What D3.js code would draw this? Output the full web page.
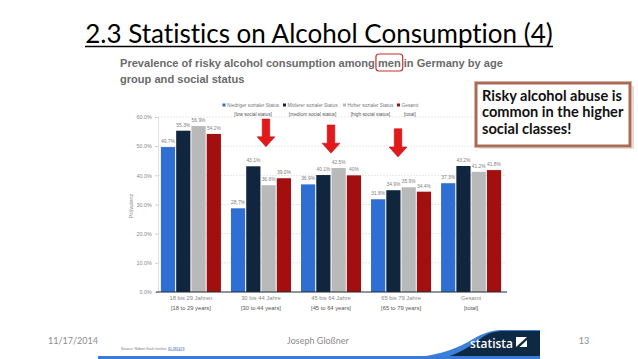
<!DOCTYPE html>
<html>
<head>
<meta charset="utf-8">
<script src="https://cdn.jsdelivr.net/npm/d3@7"></script>
<style>
  html, body { margin: 0; padding: 0; background: #fff; }
  svg { display: block; }
  text { font-variant-ligatures: none; }
</style>
</head>
<body>
<div id="slide"></div>
<script>
// chart data
const categories = ["18 bis 29 Jahren", "30 bis 44 Jahre", "45 bis 64 Jahre", "65 bis 79 Jahre", "Gesamt"];
const categoriesEn = ["[18 to 29 years]", "[30 to 44 years]", "[45 to 64 years]", "[65 to 79 years]", "[total]"];
const seriesNames = ["Niedriger sozialer Status", "Mittlerer sozialer Status", "Hoher sozialer Status", "Gesamt"];
const seriesNamesEn = ["[low social status]", "[medium social status]", "[high social status]", "[total]"];
const lowStatus = [49.7, 28.7, 36.9, 31.8, 37.3];
const mediumStatus = [55.3, 43.1, 40.1, 34.9, 43.2];
const highStatus = [56.9, 36.6, 42.5, 35.9, 41.2];
const totalStatus = [54.2, 39.0, 40.0, 34.4, 41.8];
const yTicks = [0, 10, 20, 30, 40, 50, 60];
// groups the red arrows point at
const arrowGroups = [1, 2, 3];

const colors = ["#2f6fd4", "#10263f", "#b9b9b9", "#a30f0f"];
const allSeries = [lowStatus, mediumStatus, highStatus, totalStatus];

const W = 638, H = 359;
const svg = d3.select("#slide").append("svg").attr("width", W).attr("height", H);

// fit a text to a target width by scaling its font size
function fitWidth(sel, target) {
	const w = sel.node().getComputedTextLength();
	const fs = parseFloat(sel.attr("font-size"));
	sel.attr("font-size", fs * target / w);
}

// value label like on the slide ("40%" has no decimal there)
function valLabel(v) {
	return (v === 40 ? "40" : d3.format(".1f")(v)) + "%";
}

// ---- title
const title = svg.append("text")
	.attr("x", 319).attr("y", 43)
	.attr("text-anchor", "middle")
	.attr("font-family", "Lato, 'Open Sans', sans-serif")
	.attr("font-size", 26)
	.attr("fill", "#000")
	.text("2.3 Statistics on Alcohol Consumption (4)");
fitWidth(title, 468);
svg.append("line")
	.attr("x1", 85).attr("x2", 553)
	.attr("y1", 46.5).attr("y2", 46.5)
	.attr("stroke", "#000").attr("stroke-width", 1.6);

// ---- subtitle
const sub = svg.append("text")
	.attr("x", 120).attr("y", 67)
	.attr("font-family", "'Liberation Sans', Arial, sans-serif")
	.attr("font-weight", "bold")
	.attr("font-size", 11.5)
	.attr("fill", "#6a6a6a")
	.text("Prevalence of risky alcohol consumption among men in Germany by age");
fitWidth(sub, 383);
const subFs = parseFloat(sub.attr("font-size"));
svg.append("text")
	.attr("x", 120).attr("y", 83)
	.attr("font-family", "'Liberation Sans', Arial, sans-serif")
	.attr("font-weight", "bold")
	.attr("font-size", subFs)
	.attr("fill", "#6a6a6a")
	.text("group and social status");

// red rounded box round "men"
const subStr = sub.text();
const menIdx = subStr.indexOf("men ");
const mx0 = sub.node().getStartPositionOfChar(menIdx).x;
const mw = sub.node().getSubStringLength(menIdx, 3);
svg.append("rect")
	.attr("x", mx0 - 2).attr("y", 54)
	.attr("width", mw + 4).attr("height", 17)
	.attr("rx", 3)
	.attr("fill", "none")
	.attr("stroke", "#c8302c").attr("stroke-width", 1.2);

// ---- chart
const x = d3.scaleBand()
	.domain(d3.range(categories.length))
	.range([156, 506])
	.paddingInner(0.143)
	.paddingOuter(0.07);
const xs = d3.scaleBand()
	.domain(d3.range(allSeries.length))
	.range([0, x.bandwidth()])
	.paddingInner(0.07);
const y = d3.scaleLinear().domain([0, 60]).range([292, 117]);

const chart = svg.append("g");

// gridlines
chart.append("g")
	.selectAll("line")
	.data(yTicks.filter(d => d > 0))
	.join("line")
	.attr("x1", 158).attr("x2", 506)
	.attr("y1", d => y(d)).attr("y2", d => y(d))
	.attr("stroke", "#dedede").attr("stroke-width", 0.7)
	.attr("stroke-dasharray", "2,1");

// y axis
const yAxis = chart.append("g")
	.attr("transform", "translate(158,0)")
	.call(d3.axisLeft(y).tickValues(yTicks).tickSize(3).tickFormat(d => d3.format(".1f")(d) + "%"));
yAxis.select(".domain").attr("stroke", "#e2e2e2");
yAxis.selectAll(".tick line").attr("stroke", "#cfcfcf");
yAxis.selectAll("text")
	.attr("font-family", "'Liberation Sans', Arial, sans-serif")
	.attr("font-size", 5.5)
	.attr("fill", "#8a8a8a")
	.attr("x", -6);

chart.append("text")
	.attr("transform", "translate(133,206) rotate(-90)")
	.attr("text-anchor", "middle")
	.attr("font-family", "'Liberation Sans', Arial, sans-serif")
	.attr("font-size", 5.5)
	.attr("fill", "#8a8a8a")
	.text("Prävalenz");

// bars
const groups = chart.append("g")
	.selectAll("g")
	.data(categories)
	.join("g")
	.attr("transform", (d, i) => "translate(" + x(i) + ",0)");

groups.selectAll("rect")
	.data((d, i) => allSeries.map((s, k) => ({ k: k, v: s[i] })))
	.join("rect")
	.attr("x", d => xs(d.k))
	.attr("width", xs.bandwidth())
	.attr("y", d => y(d.v))
	.attr("height", d => y(0) - y(d.v))
	.attr("fill", d => colors[d.k]);

groups.selectAll("text.val")
	.data((d, i) => allSeries.map((s, k) => ({ k: k, v: s[i] })))
	.join("text")
	.attr("class", "val")
	.attr("x", d => xs(d.k) + xs.bandwidth() / 2)
	.attr("y", d => y(d.v) - 4)
	.attr("text-anchor", "middle")
	.attr("font-family", "'Liberation Sans', Arial, sans-serif")
	.attr("font-size", 4.9)
	.attr("fill", "#808080")
	.text(d => valLabel(d.v));

// baseline
chart.append("line")
	.attr("x1", 156).attr("x2", 507)
	.attr("y1", y(0)).attr("y2", y(0))
	.attr("stroke", "#1e2a36").attr("stroke-width", 1.1);

// x labels
const xl = chart.append("g");
xl.selectAll("text.de")
	.data(categories)
	.join("text")
	.attr("class", "de")
	.attr("x", (d, i) => x(i) + x.bandwidth() / 2)
	.attr("y", 300)
	.attr("text-anchor", "middle")
	.attr("font-family", "'Liberation Sans', Arial, sans-serif")
	.attr("font-size", 5.8)
	.attr("fill", "#8a8a8a")
	.text(d => d);
xl.selectAll("text.en")
	.data(categoriesEn)
	.join("text")
	.attr("class", "en")
	.attr("x", (d, i) => x(i) + x.bandwidth() / 2)
	.attr("y", 309.5)
	.attr("text-anchor", "middle")
	.attr("font-family", "'Liberation Sans', Arial, sans-serif")
	.attr("font-size", 5.8)
	.attr("fill", "#555")
	.text(d => d);

// legend
const legendX = [222.5, 283, 343, 397];
const leg = chart.append("g")
	.selectAll("g")
	.data(seriesNames)
	.join("g")
	.attr("transform", (d, i) => "translate(" + legendX[i] + ",0)");
leg.append("rect")
	.attr("x", 0).attr("y", 103.5)
	.attr("width", 3).attr("height", 3)
	.attr("fill", (d, i) => colors[i]);
const legText1 = leg.append("text")
	.attr("x", 4.5).attr("y", 107.3)
	.attr("font-family", "'Liberation Sans', Arial, sans-serif")
	.attr("font-size", 4.8)
	.attr("fill", "#777")
	.text(d => d);
leg.append("text")
	.attr("x", function(d, i) {
		const w = legText1.nodes()[i].getComputedTextLength();
		return 4.5 + w / 2;
	})
	.attr("y", 115.8)
	.attr("text-anchor", "middle")
	.attr("font-family", "'Liberation Sans', Arial, sans-serif")
	.attr("font-size", 4.8)
	.attr("fill", "#555")
	.text((d, i) => seriesNamesEn[i]);

// red arrows (shaft top and tip in percent)
const arrowTop = [59.3, 57.3, 56.0];
const arrowTip = [49.8, 47.6, 46.3];
const arrowShift = [5, 0, -3];
chart.append("g")
	.selectAll("path")
	.data(arrowGroups)
	.join("path")
	.attr("d", function(g, i) {
		const cx = x(g) + x.bandwidth() / 2 + arrowShift[i];
		const t = y(arrowTop[i]), b = y(arrowTip[i]);
		const hh = 10, sw = 3.8, hw = 9;
		return "M" + (cx - sw) + "," + t +
			"L" + (cx + sw) + "," + t +
			"L" + (cx + sw) + "," + (b - hh) +
			"L" + (cx + hw) + "," + (b - hh) +
			"L" + cx + "," + b +
			"L" + (cx - hw) + "," + (b - hh) +
			"L" + (cx - sw) + "," + (b - hh) + "Z";
	})
	.attr("fill", "#e3191b")
	.attr("stroke", "#b01010").attr("stroke-width", 0.5);

// ---- callout box
const box = svg.append("g");
box.append("rect")
	.attr("x", 479).attr("y", 86)
	.attr("width", 155).attr("height", 63)
	.attr("fill", "#d9c8c0").attr("opacity", 0.6);
box.append("rect")
	.attr("x", 476).attr("y", 83)
	.attr("width", 154).attr("height", 63)
	.attr("fill", "#fff")
	.attr("stroke", "#a96b55").attr("stroke-width", 3);
box.append("rect")
	.attr("x", 474.5).attr("y", 81.5)
	.attr("width", 157).attr("height", 66)
	.attr("fill", "none")
	.attr("stroke", "#d7b3a5").attr("stroke-width", 0.8);
const boxLines = ["Risky alcohol abuse is", "common in the higher", "social classes!"];
box.selectAll("text")
	.data(boxLines)
	.join("text")
	.attr("x", 482)
	.attr("y", (d, i) => 100.5 + i * 16.5)
	.attr("font-family", "Lato, 'Open Sans', sans-serif")
	.attr("font-weight", "bold")
	.attr("font-size", 15)
	.attr("fill", "#111")
	.text(d => d)
	.each(function(d, i) {
		if (i === 0) fitWidth(d3.select(this), 140);
	});
const bfs = box.select("text").attr("font-size");
box.selectAll("text").attr("font-size", bfs);

// ---- footer
const footFont = "Lato, 'Open Sans', sans-serif";
svg.append("text")
	.attr("x", 48).attr("y", 344)
	.attr("font-family", footFont).attr("font-size", 9)
	.attr("fill", "#8c8c8c")
	.text("11/17/2014");
svg.append("text")
	.attr("x", 318).attr("y", 344)
	.attr("text-anchor", "middle")
	.attr("font-family", footFont).attr("font-size", 9)
	.attr("fill", "#8c8c8c")
	.text("Joseph Gloßner");
svg.append("text")
	.attr("x", 584).attr("y", 344)
	.attr("text-anchor", "middle")
	.attr("font-family", footFont).attr("font-size", 9)
	.attr("fill", "#8c8c8c")
	.text("13");

const src = svg.append("text")
	.attr("x", 121).attr("y", 349.5)
	.attr("font-family", "'Liberation Sans', Arial, sans-serif")
	.attr("font-size", 3.6)
	.attr("fill", "#777");
src.append("tspan").text("Source: Robert Koch Institut, ");
src.append("tspan").attr("fill", "#2a5db0").attr("text-decoration", "underline").text("ID 281473");

// statista banner
const ban = svg.append("g");
ban.append("path")
	.attr("d", "M395,359 C430,357 450,352 468,342 C478,336 486,331 500,330 L540,330 L540,359 Z")
	.attr("fill", "#3b7fda");
ban.append("path")
	.attr("d", "M440,359 C460,354 470,346 480,339 C488,333 494,331 505,331 L540,331 L540,359 Z")
	.attr("fill", "#0e2944");
ban.append("rect")
	.attr("x", 98).attr("y", 356).attr("width", 442).attr("height", 3)
	.attr("fill", "#3a7bd5");
const logo = ban.append("text")
	.attr("x", 470).attr("y", 347.5)
	.attr("font-family", "'Open Sans', 'Noto Sans', sans-serif")
	.attr("font-size", 14)
	.attr("font-weight", "600")
	.attr("fill", "#fff")
	.text("statista");
fitWidth(logo, 43);
ban.append("rect")
	.attr("x", 516).attr("y", 337).attr("width", 11).attr("height", 10)
	.attr("fill", "#fff");
ban.append("path")
	.attr("d", "M516,347 L527,337 L527,340 L519.5,347 Z")
	.attr("fill", "#0e2944");
</script>
</body>
</html>
